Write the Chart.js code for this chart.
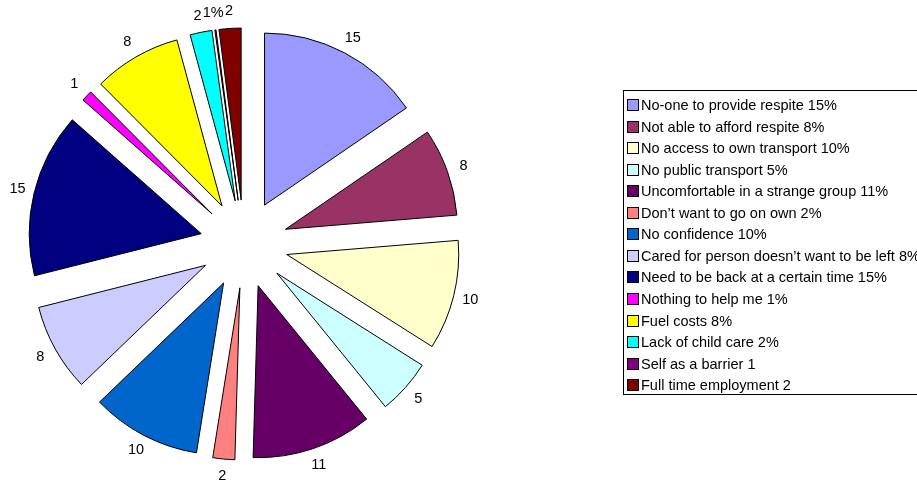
<!DOCTYPE html>
<html>
<head>
<meta charset="utf-8">
<script src="https://cdn.jsdelivr.net/npm/chart.js@4.4.0/dist/chart.umd.min.js"></script>
<style>
    html, body { margin: 0; padding: 0; background: #fff; }
    #wrap { position: relative; width: 917px; height: 486px; overflow: hidden; }
</style>
</head>
<body>
<div id="wrap"><canvas id="barrierChart" width="917" height="486"></canvas></div>
<script>
// Barriers to taking a break - counts per reason

const reasons = [
    'No-one to provide respite 15%',
    'Not able to afford respite 8%',
    'No access to own transport 10%',
    'No public transport 5%',
    'Uncomfortable in a strange group 11%',
    'Don\u2019t want to go on own 2%',
    'No confidence 10%',
    'Cared for person doesn\u2019t want to be left 8%',
    'Need to be back at a certain time 15%',
    'Nothing to help me 1%',
    'Fuel costs 8%',
    'Lack of child care 2%',
    'Self as a barrier 1',
    'Full time employment 2'
];
const counts = [15, 8, 10, 5, 11, 2, 10, 8, 15, 1, 8, 2, 0.1, 2];
const sliceLabels = ['15', '8', '10', '5', '11', '2', '10', '8', '15', '1', '8', '2', '1%', '2'];
const sliceColours = [
    '#9999FF', '#993366', '#FFFFCC', '#CCFFFF', '#660066', '#FF8080', '#0066CC',
    '#CCCCFF', '#000080', '#FF00FF', '#FFFF00', '#00FFFF', '#800080', '#800000'
];

const EXPLODE = 44;
const LABEL_RADIUS = 233;
const FONT = '14.5px "Liberation Sans", Arial, sans-serif';

// pull every slice away from the centre
// (the built-in "offset" option also stretches the thin slices, so translate instead)
const baseArcDraw = Chart.ArcElement.prototype.draw;
Chart.ArcElement.prototype.draw = function(ctx) {
    const mid = (this.startAngle + this.endAngle) / 2;
    ctx.save();
    ctx.translate(Math.cos(mid) * EXPLODE, Math.sin(mid) * EXPLODE);
    baseArcDraw.call(this, ctx);
    ctx.restore();
};

// value text just outside each slice
const sliceLabelsPlugin = {
    id: 'sliceLabels',
    afterDatasetsDraw(chart) {
        const ctx = chart.ctx;
        const arcs = chart.getDatasetMeta(0).data;
        ctx.save();
        ctx.font = FONT;
        ctx.fillStyle = '#000';
        ctx.textAlign = 'center';
        ctx.textBaseline = 'middle';
        arcs.forEach((arc, i) => {
            const mid = (arc.startAngle + arc.endAngle) / 2;
            ctx.fillText(sliceLabels[i],
                arc.x + Math.cos(mid) * LABEL_RADIUS,
                arc.y + Math.sin(mid) * LABEL_RADIUS);
        });
        ctx.restore();
    }
};

// boxed legend on the right, runs off the edge like the original
const boxLegendPlugin = {
    id: 'boxLegend',
    afterDraw(chart) {
        const ctx = chart.ctx;
        const left = 623, top = 90, bottom = 394;
        const firstRow = 105, rowH = 21.55;
        ctx.save();
        ctx.strokeStyle = '#000';
        ctx.lineWidth = 1;
        ctx.strokeRect(left + 0.5, top + 0.5, chart.width, bottom - top);
        ctx.font = FONT;
        ctx.textAlign = 'left';
        ctx.textBaseline = 'middle';
        const colours = chart.data.datasets[0].backgroundColor;
        chart.data.labels.forEach((label, i) => {
            const y = Math.round(firstRow + i * rowH);
            ctx.fillStyle = colours[i];
            ctx.fillRect(628, y - 5, 10, 10);
            ctx.strokeStyle = '#000';
            ctx.strokeRect(627.5, y - 5.5, 11, 11);
            ctx.fillStyle = '#000';
            ctx.fillText(label, 641, y + 0.5);
        });
        ctx.restore();
    }
};

function initChart() {
    const ctx = document.getElementById('barrierChart').getContext('2d');

    new Chart(ctx, {
        type: 'pie',
        data: {
            labels: reasons,
            datasets: [{
                data: counts,
                backgroundColor: sliceColours,
                borderColor: '#000000',
                borderWidth: 1
            }]
        },
        options: {
            responsive: false,
            animation: false,
            events: [],
            radius: 172,
            layout: {
                padding: { left: 0, top: 2, right: 429, bottom: 0 }
            },
            plugins: {
                legend: { display: false },
                tooltip: { enabled: false }
            }
        },
        plugins: [sliceLabelsPlugin, boxLegendPlugin]
    });
}

document.addEventListener('DOMContentLoaded', initChart);
</script>
</body>
</html>
